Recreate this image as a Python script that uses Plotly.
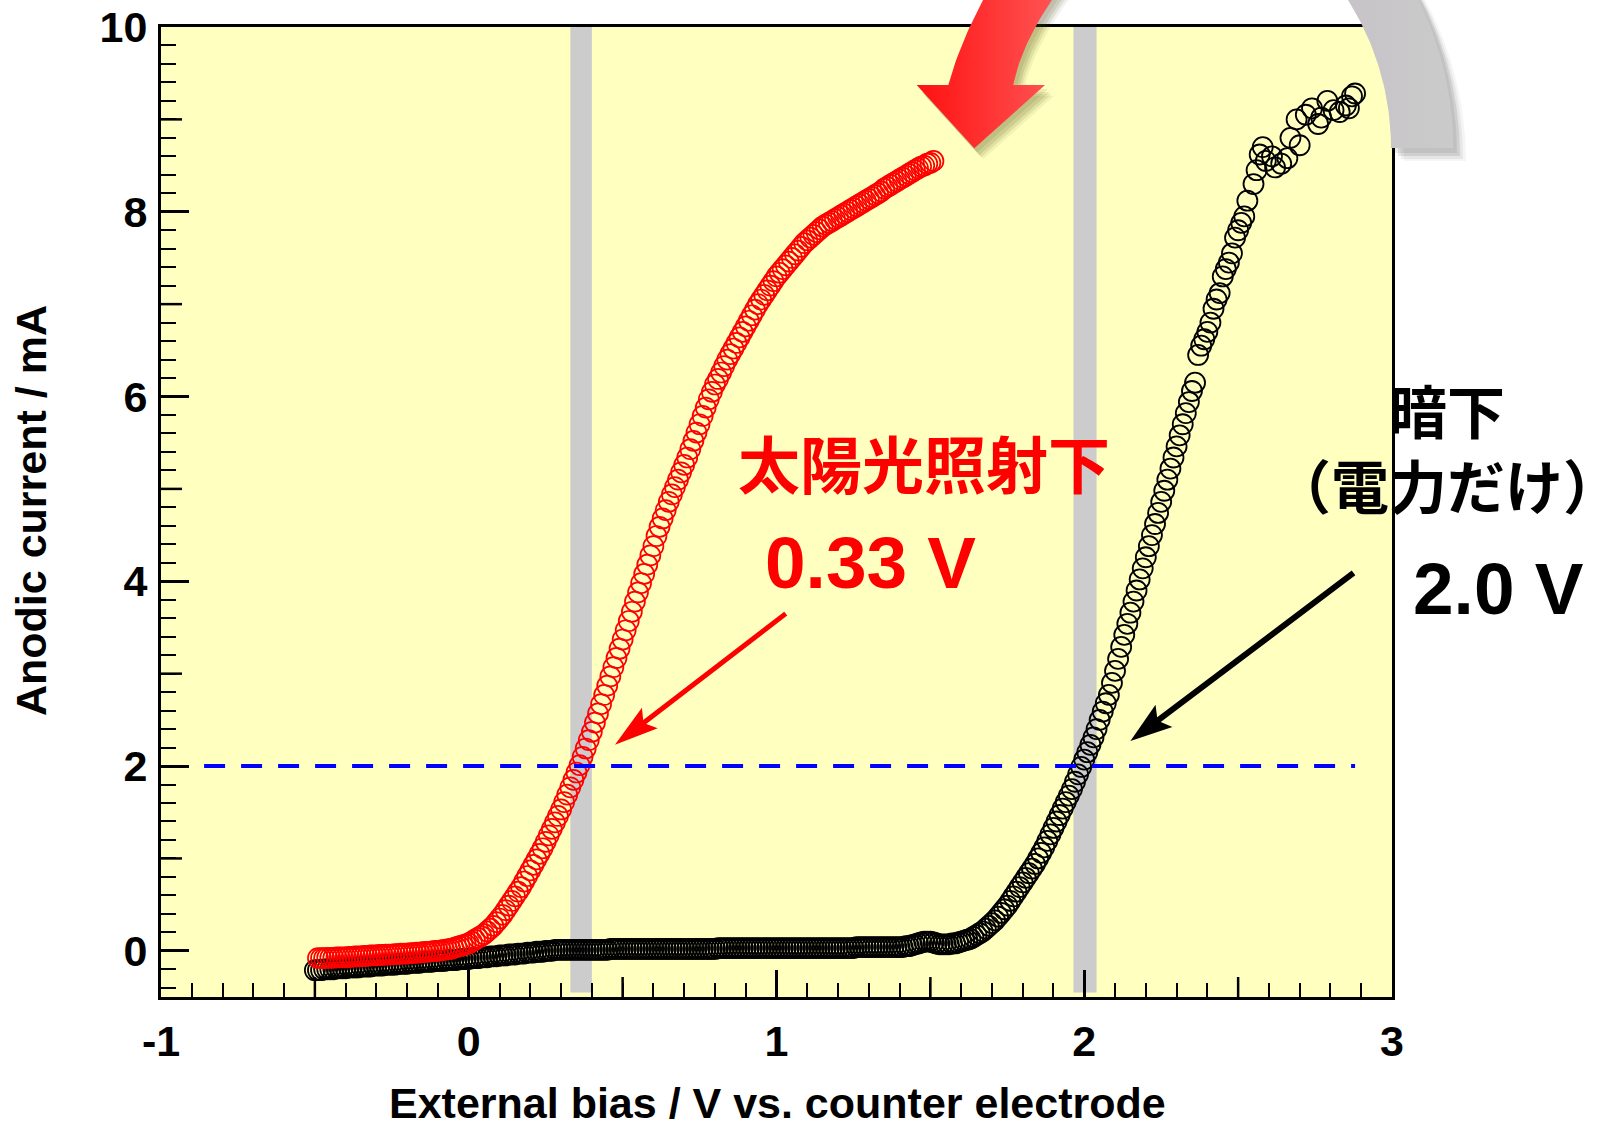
import numpy as np
import plotly.graph_objects as go

# ---------------------------------------------------------------- page / axes
W, H = 1624, 1128
PX_L, PX_R, PX_T, PX_B = 161, 1392, 27, 997        # plot frame in page pixels
X_RANGE = [-1.0, 3.0]
Y_RANGE = [-0.5, 10.0]
X_TICKS = [-1, 0, 1, 2, 3]
X_TICK_TEXT = ["-1", "0", "1", "2", "3"]
Y_TICKS = [0, 2, 4, 6, 8, 10]
X_MID_TICKS = [-0.5, 0.5, 1.5, 2.5]
Y_MID_TICKS = [1, 3, 5, 7, 9]

# ---------------------------------------------------------------- data
# under simulated sunlight
light_v = [
    -0.49, -0.48, -0.47, -0.46, -0.45, -0.44, -0.43, -0.42, -0.41, -0.40,
    -0.39, -0.38, -0.37, -0.36, -0.35, -0.34, -0.33, -0.32, -0.31, -0.30,
    -0.29, -0.28, -0.27, -0.26, -0.25, -0.24, -0.23, -0.22, -0.21, -0.20,
    -0.19, -0.18, -0.17, -0.16, -0.15, -0.14, -0.13, -0.12, -0.11, -0.10,
    -0.09, -0.08, -0.07, -0.06, -0.05, -0.04, -0.03, -0.02, -0.01, 0.00,
    0.01, 0.02, 0.03, 0.04, 0.05, 0.06, 0.07, 0.08, 0.09, 0.10,
    0.11, 0.12, 0.13, 0.14, 0.15, 0.16, 0.17, 0.18, 0.19, 0.20,
    0.21, 0.22, 0.23, 0.24, 0.25, 0.26, 0.27, 0.28, 0.29, 0.30,
    0.31, 0.32, 0.33, 0.34, 0.35, 0.36, 0.37, 0.38, 0.39, 0.40,
    0.41, 0.42, 0.43, 0.44, 0.45, 0.46, 0.47, 0.48, 0.49, 0.50,
    0.51, 0.52, 0.53, 0.54, 0.55, 0.56, 0.57, 0.58, 0.59, 0.60,
    0.61, 0.62, 0.63, 0.64, 0.65, 0.66, 0.67, 0.68, 0.69, 0.70,
    0.71, 0.72, 0.73, 0.74, 0.75, 0.76, 0.77, 0.78, 0.79, 0.80,
    0.81, 0.82, 0.83, 0.84, 0.85, 0.86, 0.87, 0.88, 0.89, 0.90,
    0.91, 0.92, 0.93, 0.94, 0.95, 0.96, 0.97, 0.98, 0.99, 1.00,
    1.01, 1.02, 1.03, 1.04, 1.05, 1.06, 1.07, 1.08, 1.09, 1.10,
    1.11, 1.12, 1.13, 1.14, 1.15, 1.16, 1.17, 1.18, 1.19, 1.20,
    1.21, 1.22, 1.23, 1.24, 1.25, 1.26, 1.27, 1.28, 1.29, 1.30,
    1.31, 1.32, 1.33, 1.34, 1.35, 1.36, 1.37, 1.38, 1.39, 1.40,
    1.41, 1.42, 1.43, 1.44, 1.45, 1.46, 1.47, 1.48, 1.49, 1.50, 1.51,
]
light_i = [
    -0.08, -0.08, -0.08, -0.075, -0.075, -0.075, -0.07, -0.07, -0.07, -0.07,
    -0.065, -0.065, -0.06, -0.06, -0.06, -0.055, -0.055, -0.05, -0.05, -0.05,
    -0.045, -0.045, -0.04, -0.04, -0.04, -0.035, -0.035, -0.03, -0.03, -0.03,
    -0.025, -0.025, -0.02, -0.02, -0.015, -0.01, -0.01, -0.005, 0.0, 0.0,
    0.005, 0.01, 0.015, 0.02, 0.03, 0.04, 0.05, 0.06, 0.07, 0.08,
    0.10, 0.12, 0.14, 0.16, 0.18, 0.21, 0.24, 0.27, 0.31, 0.35,
    0.39, 0.44, 0.49, 0.54, 0.59, 0.64, 0.69, 0.75, 0.81, 0.87,
    0.93, 0.99, 1.05, 1.11, 1.18, 1.25, 1.32, 1.39, 1.46, 1.53,
    1.61, 1.69, 1.77, 1.85, 1.93, 2.01, 2.10, 2.19, 2.28, 2.37,
    2.47, 2.57, 2.67, 2.77, 2.87, 2.97, 3.07, 3.17, 3.27, 3.37,
    3.47, 3.57, 3.67, 3.78, 3.88, 3.98, 4.08, 4.18, 4.28, 4.38,
    4.49, 4.59, 4.68, 4.77, 4.86, 4.94, 5.02, 5.10, 5.18, 5.26,
    5.34, 5.43, 5.52, 5.61, 5.70, 5.79, 5.88, 5.97, 6.05, 6.13,
    6.19, 6.26, 6.33, 6.40, 6.46, 6.52, 6.58, 6.64, 6.70, 6.76,
    6.82, 6.88, 6.94, 7.00, 7.05, 7.10, 7.15, 7.20, 7.25, 7.30,
    7.34, 7.38, 7.42, 7.46, 7.50, 7.54, 7.58, 7.62, 7.66, 7.69,
    7.72, 7.75, 7.78, 7.81, 7.84, 7.86, 7.88, 7.90, 7.92, 7.94,
    7.96, 7.98, 8.00, 8.02, 8.04, 8.06, 8.08, 8.10, 8.12, 8.14,
    8.16, 8.18, 8.20, 8.22, 8.25, 8.27, 8.29, 8.31, 8.33, 8.35,
    8.37, 8.39, 8.41, 8.43, 8.45, 8.47, 8.49, 8.50, 8.52, 8.53, 8.55,
]

# in the dark (electric power only)
dark_v = [
    -0.50, -0.49, -0.48, -0.47, -0.46, -0.45, -0.44, -0.43, -0.42, -0.41,
    -0.40, -0.39, -0.38, -0.37, -0.36, -0.35, -0.34, -0.33, -0.32, -0.31,
    -0.30, -0.29, -0.28, -0.27, -0.26, -0.25, -0.24, -0.23, -0.22, -0.21,
    -0.20, -0.19, -0.18, -0.17, -0.16, -0.15, -0.14, -0.13, -0.12, -0.11,
    -0.10, -0.09, -0.08, -0.07, -0.06, -0.05, -0.04, -0.03, -0.02, -0.01,
    0.00, 0.01, 0.02, 0.03, 0.04, 0.05, 0.06, 0.07, 0.08, 0.09,
    0.10, 0.11, 0.12, 0.13, 0.14, 0.15, 0.16, 0.17, 0.18, 0.19,
    0.20, 0.21, 0.22, 0.23, 0.24, 0.25, 0.26, 0.27, 0.28, 0.29,
    0.30, 0.31, 0.32, 0.33, 0.34, 0.35, 0.36, 0.37, 0.38, 0.39,
    0.40, 0.41, 0.42, 0.43, 0.44, 0.45, 0.46, 0.47, 0.48, 0.49,
    0.50, 0.51, 0.52, 0.53, 0.54, 0.55, 0.56, 0.57, 0.58, 0.59,
    0.60, 0.61, 0.62, 0.63, 0.64, 0.65, 0.66, 0.67, 0.68, 0.69,
    0.70, 0.71, 0.72, 0.73, 0.74, 0.75, 0.76, 0.77, 0.78, 0.79,
    0.80, 0.81, 0.82, 0.83, 0.84, 0.85, 0.86, 0.87, 0.88, 0.89,
    0.90, 0.91, 0.92, 0.93, 0.94, 0.95, 0.96, 0.97, 0.98, 0.99,
    1.00, 1.01, 1.02, 1.03, 1.04, 1.05, 1.06, 1.07, 1.08, 1.09,
    1.10, 1.11, 1.12, 1.13, 1.14, 1.15, 1.16, 1.17, 1.18, 1.19,
    1.20, 1.21, 1.22, 1.23, 1.24, 1.25, 1.26, 1.27, 1.28, 1.29,
    1.30, 1.31, 1.32, 1.33, 1.34, 1.35, 1.36, 1.37, 1.38, 1.39,
    1.40, 1.41, 1.42, 1.43, 1.44, 1.45, 1.46, 1.47, 1.48, 1.49,
    1.50, 1.51, 1.52, 1.53, 1.54, 1.55, 1.56, 1.57, 1.58, 1.59,
    1.60, 1.61, 1.62, 1.63, 1.64, 1.65, 1.66, 1.67, 1.68, 1.69,
    1.70, 1.71, 1.72, 1.73, 1.74, 1.75, 1.76, 1.77, 1.78, 1.79,
    1.80, 1.81, 1.82, 1.83, 1.84, 1.85, 1.86, 1.87, 1.88, 1.89,
    1.90, 1.91, 1.92, 1.93, 1.94, 1.95, 1.96, 1.97, 1.98, 1.99,
    2.00, 2.01, 2.02, 2.03, 2.04, 2.05, 2.06, 2.07, 2.08, 2.09,
    2.10, 2.11, 2.12, 2.13, 2.14, 2.15, 2.16, 2.17, 2.18, 2.19,
    2.20, 2.21, 2.22, 2.23, 2.24, 2.25, 2.26, 2.27, 2.28, 2.29,
    2.30, 2.31, 2.32, 2.33, 2.34, 2.35, 2.36, 2.37, 2.38, 2.39,
    2.40, 2.41, 2.42, 2.43, 2.44, 2.45, 2.46, 2.47, 2.48, 2.49,
    2.50, 2.51, 2.52, 2.53, 2.55, 2.56, 2.57, 2.58, 2.59, 2.61,
    2.62, 2.64, 2.66, 2.67, 2.69, 2.70, 2.72, 2.74, 2.76, 2.77,
    2.79, 2.81, 2.83, 2.85, 2.86, 2.87, 2.88,
]
dark_i = [
    -0.21, -0.21, -0.21, -0.20, -0.20, -0.20, -0.20, -0.19, -0.19, -0.19,
    -0.19, -0.18, -0.18, -0.18, -0.18, -0.17, -0.17, -0.17, -0.17, -0.16,
    -0.16, -0.16, -0.16, -0.15, -0.15, -0.15, -0.15, -0.14, -0.14, -0.14,
    -0.14, -0.13, -0.13, -0.13, -0.13, -0.12, -0.12, -0.12, -0.12, -0.11,
    -0.11, -0.11, -0.11, -0.10, -0.10, -0.10, -0.10, -0.09, -0.09, -0.09,
    -0.09, -0.08, -0.08, -0.08, -0.07, -0.07, -0.07, -0.06, -0.06, -0.06,
    -0.05, -0.05, -0.05, -0.04, -0.04, -0.04, -0.03, -0.03, -0.03, -0.02,
    -0.02, -0.02, -0.01, -0.01, -0.01, 0.00, 0.00, 0.00, 0.01, 0.01,
    0.01, 0.01, 0.01, 0.01, 0.01, 0.01, 0.01, 0.01, 0.01, 0.01,
    0.01, 0.01, 0.01, 0.01, 0.01, 0.01, 0.02, 0.02, 0.02, 0.02,
    0.02, 0.02, 0.02, 0.02, 0.02, 0.02, 0.02, 0.02, 0.02, 0.02,
    0.02, 0.02, 0.02, 0.02, 0.02, 0.02, 0.02, 0.02, 0.02, 0.02,
    0.02, 0.02, 0.02, 0.02, 0.02, 0.02, 0.02, 0.02, 0.02, 0.02,
    0.02, 0.03, 0.03, 0.03, 0.03, 0.03, 0.03, 0.03, 0.03, 0.03,
    0.03, 0.03, 0.03, 0.03, 0.03, 0.03, 0.03, 0.03, 0.03, 0.03,
    0.03, 0.03, 0.03, 0.03, 0.03, 0.03, 0.03, 0.03, 0.03, 0.03,
    0.03, 0.03, 0.03, 0.03, 0.03, 0.03, 0.03, 0.03, 0.03, 0.03,
    0.03, 0.03, 0.03, 0.03, 0.03, 0.03, 0.04, 0.04, 0.04, 0.04,
    0.04, 0.04, 0.04, 0.04, 0.04, 0.04, 0.04, 0.04, 0.04, 0.04,
    0.04, 0.04, 0.05, 0.05, 0.06, 0.07, 0.08, 0.09, 0.10, 0.10,
    0.10, 0.09, 0.08, 0.07, 0.07, 0.07, 0.07, 0.08, 0.08, 0.09,
    0.10, 0.11, 0.12, 0.13, 0.15, 0.17, 0.19, 0.21, 0.24, 0.27,
    0.30, 0.33, 0.37, 0.41, 0.45, 0.49, 0.54, 0.59, 0.64, 0.69,
    0.74, 0.79, 0.84, 0.89, 0.94, 1.00, 1.06, 1.12, 1.19, 1.26,
    1.33, 1.40, 1.47, 1.54, 1.61, 1.68, 1.75, 1.83, 1.91, 1.99,
    2.07, 2.15, 2.23, 2.31, 2.40, 2.50, 2.59, 2.68, 2.77, 2.90,
    3.03, 3.16, 3.29, 3.42, 3.54, 3.66, 3.78, 3.90, 4.02, 4.14,
    4.26, 4.38, 4.50, 4.62, 4.74, 4.86, 4.98, 5.10, 5.22, 5.34,
    5.46, 5.58, 5.70, 5.82, 5.94, 6.06, 6.15, 6.45, 6.55, 6.62,
    6.70, 6.80, 6.95, 7.05, 7.12, 7.30, 7.38, 7.45, 7.55, 7.72,
    7.80, 7.88, 7.95, 8.12, 8.30, 8.45, 8.62, 8.70, 8.55, 8.60,
    8.48, 8.52, 8.58, 8.80, 9.00, 8.72, 9.05, 9.12, 8.95, 9.02,
    9.20, 9.10, 9.08, 9.15, 9.12, 9.25, 9.28,
]

TARGET_CURRENT = 2.0                       # mA, reference level
TARGET_SPAN = [-0.86, 2.88]                # extent of the dashed level line
ONSET_LIGHT = 0.33                         # V
ONSET_DARK = 2.0                           # V
BANDS = [(0.33, 0.40), (1.965, 2.04)]      # highlighted bias windows
BAND_BOTTOM = -0.45

# pointer arrows (tail -> tip), data coordinates
ARROW_LIGHT = ((1.03, 3.65), (0.475, 2.23))
ARROW_DARK = ((2.875, 4.09), (2.15, 2.27))

LABEL_FONT = "Liberation Sans, Arial, sans-serif"
CJK_FONT = "Noto Sans CJK JP, sans-serif"
YELLOW = "#FFFFC0"
BAND_GREY = "#CCCCCC"


def to_px(x, y):
    """data -> page pixel coordinates of the main plot."""
    px = PX_L + (x - X_RANGE[0]) / (X_RANGE[1] - X_RANGE[0]) * (PX_R - PX_L)
    py = PX_B - (y - Y_RANGE[0]) / (Y_RANGE[1] - Y_RANGE[0]) * (PX_B - PX_T)
    return px, py


def arrow_polygon(tail, tip, shaft_w, head_len, head_half, notch):
    tx, ty = tip
    sx, sy = tail
    d = np.array([tx - sx, ty - sy], dtype=float)
    u = d / np.linalg.norm(d)
    p = np.array([-u[1], u[0]])
    T = np.array([tx, ty])
    S = np.array([sx, sy])
    base = T - u * head_len
    nt = T - u * (head_len - notch)
    c1 = base + p * head_half
    c2 = base - p * head_half
    f = (shaft_w / 2) / head_half
    j1 = nt + (c1 - nt) * f
    j2 = nt + (c2 - nt) * f
    pts = [S + p * shaft_w / 2, j1, c1, T, c2, j2, S - p * shaft_w / 2]
    xs = [q[0] for q in pts] + [pts[0][0]]
    ys = [q[1] for q in pts] + [pts[0][1]]
    return xs, ys


def bezier(p0, p1, p2, n=24):
    t = np.linspace(0, 1, n)
    x = (1 - t) ** 2 * p0[0] + 2 * t * (1 - t) * p1[0] + t ** 2 * p2[0]
    y = (1 - t) ** 2 * p0[1] + 2 * t * (1 - t) * p1[1] + t ** 2 * p2[1]
    return list(x), list(y)


def deco(xs, ys, color=None, gradient=None):
    kw = dict(x=xs, y=ys, xaxis="x2", yaxis="y2", mode="lines",
              line=dict(width=0), fill="toself", hoverinfo="skip",
              showlegend=False)
    if gradient is not None:
        kw["fillgradient"] = dict(type="horizontal", colorscale=gradient)
        kw["fillcolor"] = gradient[0][1]
    else:
        kw["fillcolor"] = color
    return go.Scatter(**kw)


fig = go.Figure()

# measured curves
fig.add_trace(go.Scatter(
    x=dark_v, y=dark_i, mode="markers", name="dark",
    marker=dict(symbol="circle-open", size=20, color="#000000",
                line=dict(width=1.8)),
    showlegend=False, hoverinfo="skip"))
fig.add_trace(go.Scatter(
    x=light_v, y=light_i, mode="markers", name="light",
    marker=dict(symbol="circle-open", size=20, color="#FF0000",
                line=dict(width=1.7)),
    showlegend=False, hoverinfo="skip"))

# pointer arrows
for (tail, tip), col, w, hl, hh in (
        (ARROW_LIGHT, "#FF0000", 5, 44, 13),
        (ARROW_DARK, "#000000", 6, 42, 14)):
    xs, ys = arrow_polygon(to_px(*tail), to_px(*tip), w, hl, hh, 8)
    fig.add_trace(deco(xs, ys, color=col))

# ---- decorative curved red arrow (top centre)
lx, ly = bezier((948.3, 85), (962.5, 32.6), (1000, -30))
rx, ry = bezier((1013.3, 85), (1023.7, 32.8), (1074, -30))
ax_ = lx[::-1] + [948.3, 916.7, 974.3, 1045.0, 1013.3] + rx + [lx[-1]]
ay_ = ly[::-1] + [85, 85, 148.3, 85, 85] + ry + [ly[-1]]
for dx, dy, a in ((3, 4, 0.10), (5, 7, 0.12), (7, 9, 0.10), (9, 11, 0.07)):
    fig.add_trace(deco([v + dx for v in ax_], [v + dy for v in ay_],
                       color=f"rgba(70,70,20,{a})"))
fig.add_trace(deco(ax_, ay_, gradient=[[0, "#FF1010"], [1, "#FF5E5E"]]))

# ---- decorative grey ring segment (top right)
cx, cy, r_in, r_out = 1115, 148, 276, 338
th = np.radians(np.linspace(0, 42, 60))
gx = list(cx + r_out * np.cos(th)) + list(cx + r_in * np.cos(th[::-1]))
gy = list(cy - r_out * np.sin(th)) + list(cy - r_in * np.sin(th[::-1]))
gx.append(gx[0])
gy.append(gy[0])
for dx, dy, a in ((4, 5, 0.10), (7, 8, 0.12), (10, 11, 0.08), (13, 13, 0.05)):
    fig.add_trace(deco([v + dx for v in gx], [v + dy for v in gy],
                       color=f"rgba(60,60,60,{a})"))
fig.add_trace(deco(gx, gy, gradient=[[0, "#C6C1C6"], [1, "#CBCBCB"]]))

# ---------------------------------------------------------------- shapes
shapes = [dict(type="rect", xref="x domain", yref="y domain", x0=0, x1=1,
               y0=0, y1=1, fillcolor=YELLOW, line=dict(width=0),
               layer="below")]
for b0, b1 in BANDS:
    shapes.append(dict(type="rect", xref="x", yref="y", x0=b0, x1=b1,
                       y0=BAND_BOTTOM, y1=Y_RANGE[1], fillcolor=BAND_GREY,
                       line=dict(width=0), layer="below"))
shapes.append(dict(type="line", xref="x", yref="y",
                   x0=TARGET_SPAN[0], x1=TARGET_SPAN[1],
                   y0=TARGET_CURRENT, y1=TARGET_CURRENT,
                   line=dict(color="#0000FF", width=4, dash="21px,16px")))
frac_x = 20 / (PX_B - PX_T)
frac_y = 21 / (PX_R - PX_L)
for v in X_MID_TICKS:
    shapes.append(dict(type="line", xref="x", yref="y domain", x0=v, x1=v,
                       y0=0, y1=frac_x, line=dict(color="black", width=2.5)))
for v in Y_MID_TICKS:
    shapes.append(dict(type="line", xref="x domain", yref="y", y0=v, y1=v,
                       x0=0, x1=frac_y, line=dict(color="black", width=2.5)))

# ---------------------------------------------------------------- text
def label(x, y, text, size, color, family, weight, angle=0):
    return dict(x=x, y=y, xref="x2", yref="y2", text=text, showarrow=False,
                xanchor="center", yanchor="middle", textangle=angle,
                font=dict(family=family, size=size, color=color,
                          weight=weight))


annotations = [
    label(924, 462, "太陽光照射下", 62, "#FF0000", CJK_FONT, 700),
    label(870, 562, f"{ONSET_LIGHT:.2f} V", 73, "#FF0000", LABEL_FONT, 700),
    label(1447, 446, "暗下<br>（電力だけ）", 58, "#000000", CJK_FONT, 700),
    label(1498, 588, f"{ONSET_DARK:.1f} V", 73, "#000000", LABEL_FONT, 700),
    label(777, 1103, "External bias / V vs. counter electrode", 43,
          "#000000", LABEL_FONT, 700),
    label(31, 511, "Anodic current / mA", 43, "#000000", LABEL_FONT, 700,
          angle=-90),
]

tickfont = dict(family=LABEL_FONT, size=43, color="black", weight=700)
fig.update_layout(
    template="none",
    width=W, height=H, margin=dict(l=0, r=0, t=0, b=0, pad=0),
    autosize=False,
    paper_bgcolor="white", plot_bgcolor="rgba(0,0,0,0)",
    showlegend=False,
    xaxis=dict(domain=[PX_L / W, PX_R / W], range=X_RANGE, anchor="y",
               automargin=False,
               tickmode="array", tickvals=X_TICKS, ticktext=X_TICK_TEXT,
               ticks="inside", ticklen=27, tickwidth=2.5, tickcolor="black",
               showline=True, linewidth=3, linecolor="black", mirror=True,
               showgrid=False, zeroline=False, tickfont=tickfont,
               ticklabelstandoff=4, fixedrange=True,
               minor=dict(ticks="inside", tickmode="linear", tick0=0,
                          dtick=0.1, ticklen=14, tickwidth=2,
                          tickcolor="black", showgrid=False)),
    yaxis=dict(domain=[1 - PX_B / H, 1 - PX_T / H], range=Y_RANGE,
               anchor="x", automargin=False,
               tickmode="array", tickvals=Y_TICKS,
               ticks="inside", ticklen=28, tickwidth=2.5, tickcolor="black",
               showline=True, linewidth=3, linecolor="black", mirror=True,
               showgrid=False, zeroline=False, tickfont=tickfont,
               ticklabelstandoff=2, fixedrange=True,
               minor=dict(ticks="inside", tickmode="linear", tick0=0,
                          dtick=0.2, ticklen=15, tickwidth=2,
                          tickcolor="black", showgrid=False)),
    xaxis2=dict(domain=[0, 1], range=[0, W], anchor="y2", visible=False,
                automargin=False, fixedrange=True),
    yaxis2=dict(domain=[0, 1], range=[H, 0], anchor="x2", visible=False,
                automargin=False, fixedrange=True),
    shapes=shapes,
    annotations=annotations,
)

fig.write_html("out.html")
